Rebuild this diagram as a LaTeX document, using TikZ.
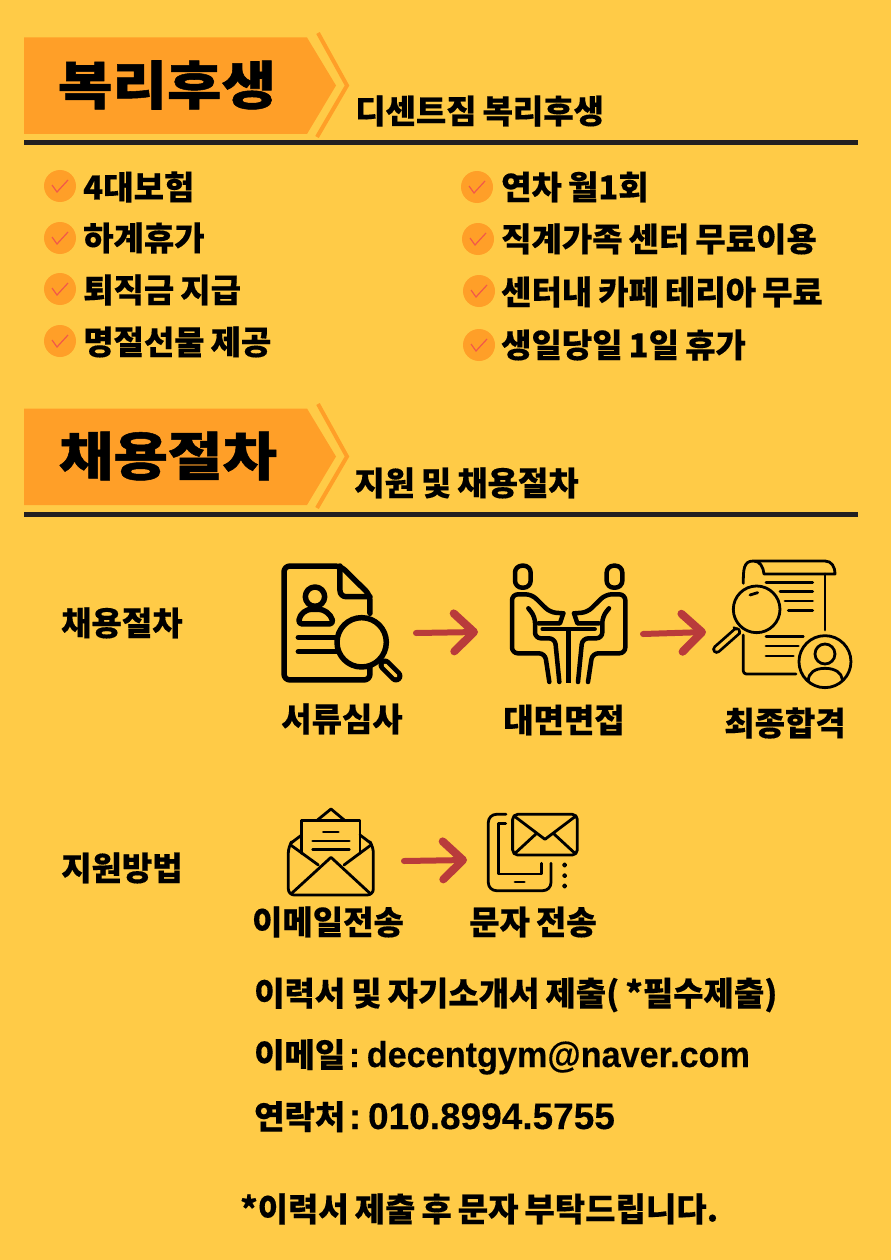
\documentclass[tikz,border=0pt]{standalone}
\usepackage{fontspec}
\setmainfont{Noto Sans CJK KR}[BoldFeatures={FakeBold=0.25}]
\newfontfamily\krblack{Noto Sans CJK KR Black}[FakeStretch=1.14,FakeBold=1]
\newfontfamily\mailfont{Liberation Sans Bold}[FakeStretch=0.95,FakeBold=0.3]
\newfontfamily\digitfont{Liberation Sans Bold}[FakeStretch=1.0,FakeBold=0.3]
\usetikzlibrary{arrows.meta}
\definecolor{bgyellow}{HTML}{FFCB47}
\definecolor{bandorange}{HTML}{FF9F28}
\definecolor{tickred}{HTML}{F2584A}
\definecolor{brushred}{HTML}{B93B3B}
\definecolor{rulegray}{HTML}{231F20}
\newcommand{\krtext}{\bfseries\fontsize{33}{36}\selectfont\spaceskip=6pt\relax}
\tikzset{
  headtext/.style={font=\krblack\fontsize{52}{56}\selectfont, inner sep=0pt},
  subtext/.style={font=\krtext, inner sep=0pt, anchor=west},
  listtext/.style={font=\krtext, inner sep=0pt, anchor=west},
  steptext/.style={font=\krtext, inner sep=0pt},
  band/.style={fill=bandorange},
  chevron/.style={draw=bandorange, line width=4pt},
  rulebar/.style={draw=rulegray, line width=5pt},
  tickdot/.style={circle, fill=bandorange, minimum size=32pt, inner sep=0pt},
  tickmark/.style={draw=tickred, line width=1.2pt},
  brush/.style={draw=brushred, line width=6pt, line cap=round, -{Straight Barb[length=20pt,width=38pt,line width=8pt,round]}},
  iconline/.style={line width=#1, line cap=round, line join=round},
  zoomed/.style={x=0.3333pt, y=-0.3333pt}
}
% tick bullet
\newcommand{\tickat}[3]{
  \node[tickdot] (#1) at (#2,#3) {};
  \draw[tickmark] (#2-8,#3-1) -- (#2-3,#3+6) -- (#2+8,#3-6);
}
\begin{document}
\begin{tikzpicture}[x=1pt,y=-1pt]
    \useasboundingbox (0,0) rectangle (891,1260);
    \fill[bgyellow] (0,0) rectangle (891,1260);

    % Benefits header
    \fill[band] (24,37.5) -- (307,37.5) -- (336,85.5) -- (307,134) -- (24,134) -- cycle;
    \draw[chevron] (318,33) -- (347,85.5) -- (317,137);
    \node[headtext] (benefitTitle) at (167,85) {복리후생};
    \node[subtext] (benefitSub) at (355,111) {디센트짐 복리후생};
    \draw[rulebar] (24,142.5) -- (858,142.5);

    % Benefit list
    \tickat{tickA}{60}{186}
    \tickat{tickB}{60}{238}
    \tickat{tickC}{60}{289}
    \tickat{tickD}{60}{341}
    \tickat{tickE}{477}{187}
    \tickat{tickF}{478}{239}
    \tickat{tickG}{479}{291}
    \tickat{tickH}{479}{345}
    \node[listtext] (itemA) at (83,187) {4대보험};
    \node[listtext] (itemB) at (83,238) {하계휴가};
    \node[listtext] (itemC) at (83,290) {퇴직금 지급};
    \node[listtext] (itemD) at (83,342) {명절선물 제공};
    \node[listtext] (itemE) at (501,187) {연차 월1회};
    \node[listtext] (itemF) at (501,239) {직계가족 센터 무료이용};
    \node[listtext] (itemG) at (501,292) {센터내 카페 테리아 무료};
    \node[listtext] (itemH) at (501,345) {생일당일 1일 휴가};

    % Hiring header
    \fill[band] (24,408.5) -- (307,408.5) -- (336,456.5) -- (307,505) -- (24,505) -- cycle;
    \draw[chevron] (318,404) -- (347,456.5) -- (317,508);
    \node[headtext] (hiringTitle) at (168,456) {채용절차};
    \node[subtext] (hiringSub) at (354,483) {지원 및 채용절차};
    \draw[rulebar] (24,514) -- (858,514);

    % Process row
    \node[steptext, anchor=west] (processLabel) at (61,623) {채용절차};

    % Document icon
    \begin{scope}[shift={(260,550)},zoomed,iconline=5.5pt]
        \draw[rounded corners=6pt] (330,190) -- (330,135) -- (242,48) -- (72,48) -- (72,390) -- (330,390) -- (330,350);
        \draw[rounded corners=6pt] (240,48) -- (240,140) -- (330,140);
        \draw (165,140) circle (29);
        \draw[rounded corners=4pt] (115,222) .. controls (120,190) and (140,178) .. (165,178) .. controls (190,178) and (212,190) .. (220,222) -- cycle;
        \draw (115,262) -- (228,262);
        \draw (115,305) -- (228,305);
        \draw (305,277) circle (74);
        \draw[line width=13pt] (375,345) -- (408,378);
        \draw[bgyellow, line width=3.5pt] (375,345) -- (408,378);
    \end{scope}
    \coordinate (brushAstart) at (416,633);
    \coordinate (brushAend) at (478,632);
    \draw[brush] (brushAstart) -- (brushAend);

    % Meeting icon
    \begin{scope}[shift={(490,550)},zoomed,iconline=4.5pt]
        \foreach \m in {1,-1} {
            \begin{scope}[shift={(236,0)},xscale=\m,shift={(-236,0)}]
                \draw[rounded corners=7pt] (75,47) rectangle (122,113);
                \draw[rounded corners=6pt] (220,190) -- (180,187) -- (125,133) -- (66,133) -- (66,310) -- (165,310) -- (178,396);
                \draw[rounded corners=6pt] (115,175) -- (135,200) -- (135,265) -- (195,265) -- (208,396);
                \draw (220,190) -- (210,220) -- (145,220);
                \draw (158,237) -- (236,237);
            \end{scope}
        }
        \draw[line width=5pt, line cap=butt] (236,240) -- (236,398);
    \end{scope}
    \coordinate (brushBstart) at (643,634);
    \coordinate (brushBend) at (706,632);
    \draw[brush] (brushBstart) -- (brushBend);

    % Final result icon
    \begin{scope}[shift={(490,550)},zoomed,iconline=2.8pt]
        \draw (760,100) .. controls (760,60) and (760,33) .. (790,33) -- (1005,33) .. controls (1025,33) and (1035,50) .. (1035,72) -- (822,72) .. controls (820,50) and (810,33) .. (790,33);
        \draw (1005,72) -- (1005,240);
        \draw[rounded corners=3pt] (760,255) -- (760,372) -- (918,372);
        \draw (828,98) -- (968,98);
        \draw (870,125) -- (968,125);
        \draw (885,153) -- (968,153);
        \draw (895,181) -- (968,181);
        \draw (828,260) -- (940,260);
        \draw (828,288) -- (925,288);
        \draw (828,318) -- (910,318);
        \draw (800,178) circle (70);
        \draw (780,135) -- (803,128);
        \draw (732,233) -- (750,250);
        \draw[line width=9pt] (740,245) -- (680,298);
        \draw[bgyellow, line width=3.5pt] (740,245) -- (680,298);
        \draw (1005,335) circle (78);
        \draw (1005,312) circle (30);
        \draw (955,393) .. controls (955,368) and (975,355) .. (1005,355) .. controls (1035,355) and (1055,368) .. (1057,388);
    \end{scope}

    \node[steptext] (stepA) at (342,719) {서류심사};
    \node[steptext] (stepB) at (564,720) {대면면접};
    \node[steptext] (stepC) at (785,723) {최종합격};

    % Apply row
    \node[steptext, anchor=west] (applyLabel) at (61,868) {지원방법};

    % Mail icon
    \begin{scope}[shift={(270,800)},zoomed,iconline=2.8pt]
        \draw[rounded corners=6pt] (62,130) -- (55,140) -- (55,285) -- (310,285) -- (310,140) -- (303,130);
        \draw (62,130) -- (95,105);
        \draw (303,130) -- (270,105);
        \draw (62,135) -- (145,195);
        \draw (303,135) -- (222,195);
        \draw (95,160) -- (95,62) -- (270,62) -- (270,160);
        \draw (140,62) -- (183,27) -- (225,62);
        \draw (65,280) -- (183,172) -- (300,280);
        \draw (160,96) -- (205,96);
        \draw (128,123) -- (238,123);
        \draw (128,148) -- (238,148);
    \end{scope}
    \coordinate (brushCstart) at (404,861);
    \coordinate (brushCend) at (467,860);
    \draw[brush] (brushCstart) -- (brushCend);

    % Phone icon
    \begin{scope}[shift={(270,800)},zoomed,iconline=2.8pt]
        \draw[rounded corners=8pt] (708,43) -- (655,43) -- (655,272) -- (843,272) -- (843,190);
        \draw (707,70) -- (685,70) -- (685,222) -- (815,222) -- (815,190);
        \draw (735,246) -- (763,246);
        \draw[rounded corners=5pt] (728,43) rectangle (922,165);
        \draw (735,50) -- (825,118) -- (915,50);
        \draw (735,160) -- (800,100);
        \draw (915,160) -- (850,100);
        \foreach \y in {195,227,258} \draw[line width=1.8pt] (884,\y) circle (5);
    \end{scope}

    \node[steptext] (mailLabel) at (328,922) {이메일전송};
    \node[steptext] (smsLabel) at (533,922) {문자 전송};

    % Notes
    \node[listtext] (noteA) at (254,995) {이력서 및 자기소개서 제출( *필수제출)};
    \node[listtext, anchor=base west] (noteB) at (254,1067) {이메일{\mailfont\fontsize{36}{38}\selectfont\spaceskip=3.5pt\ : decentgym@naver.com}};
    \node[listtext, anchor=base west] (noteC) at (254,1129) {연락처{\digitfont\fontsize{37}{40}\selectfont\spaceskip=3.5pt\ : 010.8994.5755}};
    \node[listtext] (noteD) at (240,1209) {*이력서 제출 후 문자 부탁드립니다.};
\end{tikzpicture}
\end{document}
